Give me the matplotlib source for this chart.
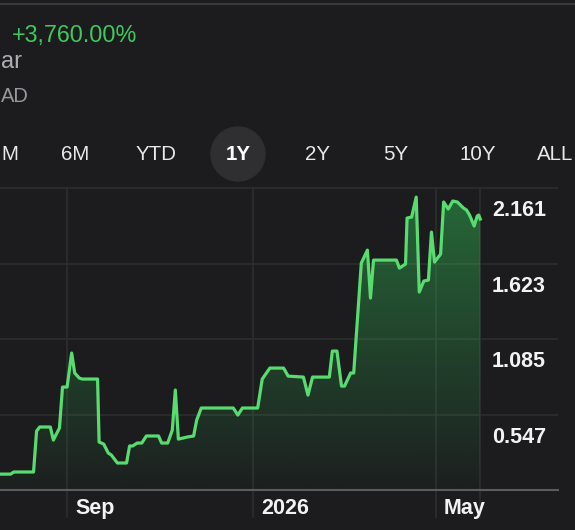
import matplotlib
matplotlib.use("Agg")
import matplotlib.pyplot as plt
import matplotlib.dates as mdates
import matplotlib.transforms as mtransforms
from matplotlib.lines import Line2D
from matplotlib.patches import Ellipse
import numpy as np
import pandas as pd

plt.rcParams["font.family"] = ["Liberation Sans", "DejaVu Sans"]

# ---- data ----
start_date = "2025-07-19"
day_offsets = [
    0, 7, 9, 22, 24, 26, 33, 35, 39, 41,
    44, 47, 49, 52, 54, 64, 65, 68, 71, 73,
    77, 83, 85, 87, 90, 93, 96, 104, 106, 110,
    113, 115, 117, 123, 127, 129, 132, 153, 156, 159,
    169, 172, 177, 186, 189, 199, 202, 205, 216, 218,
    221, 224, 226, 230, 232, 237, 241, 243, 245, 260,
    262, 266, 267, 270, 273, 275, 278, 281, 283, 285,
    289, 291, 294, 297, 300, 304, 306, 308, 311, 313,
    314, 315,
]
prices = [
    0.127, 0.127, 0.142, 0.142, 0.433, 0.462, 0.462, 0.369, 0.455, 0.746,
    0.746, 0.988, 0.846, 0.810, 0.803, 0.803, 0.355, 0.341, 0.277, 0.263,
    0.206, 0.206, 0.327, 0.327, 0.348, 0.348, 0.398, 0.398, 0.348, 0.348,
    0.440, 0.725, 0.376, 0.391, 0.398, 0.511, 0.597, 0.597, 0.547, 0.597,
    0.597, 0.803, 0.881, 0.881, 0.824, 0.817, 0.689, 0.817, 0.817, 1.002,
    1.002, 0.753, 0.753, 0.846, 0.846, 1.628, 1.720, 1.379, 1.649, 1.649,
    1.592, 1.621, 1.948, 1.955, 2.097, 1.422, 1.500, 1.507, 1.848, 1.635,
    1.692, 2.062, 2.012, 2.069, 2.062, 2.019, 2.005, 1.969, 1.891, 1.962,
    1.969, 1.941,
]
y_levels = [0.547, 1.085, 1.623, 2.161]
month_ticks = ["2025-09-01", "2026-01-01", "2026-05-01"]
month_labels = ["Sep", "2026", "May"]
ranges = ["M", "6M", "YTD", "1Y", "2Y", "5Y", "10Y", "ALL"]
selected_range = "1Y"
change_text = "+3,760.00%"
name_tail = "ar"
currency_tail = "AD"

# ---- style ----
BG = "#1c1c1e"
GRID = "#2e2e30"
GREEN = "#58dc70"
GREEN_TXT = "#3ec95c"
W, H = 575, 530


def fx(px):
    return px / W


def fy(py):
    return 1 - py / H


dates = pd.Timestamp(start_date) + pd.to_timedelta(day_offsets, unit="D")

fig = plt.figure(figsize=(W / 100, H / 100), dpi=100, facecolor=BG)

# header
fig.add_artist(Line2D([0, 1], [fy(4), fy(4)], color="#38383a", lw=1.5))
fig.text(fx(12), fy(42), change_text, color=GREEN_TXT, fontsize=16.8, va="baseline")
fig.text(fx(1), fy(68), name_tail, color="#aeaeb2", fontsize=17, ha="left", va="baseline")
fig.text(fx(1), fy(102), currency_tail, color="#98989d", fontsize=14.5, ha="left", va="baseline")

# range buttons (first one is only partly on screen in the original)
btn_x = [1, 75, 156, 238, 317, 396, 478, 537]
for label, bx in zip(ranges, btn_x):
    ha = "center"
    if label in (ranges[0], ranges[-1]):
        ha = "left"
    if label == selected_range:
        fig.add_artist(Ellipse((fx(bx), fy(154)), 54 / W, 54 / H,
                               transform=fig.transFigure, color="#2f2f31", zorder=0))
    fig.text(fx(bx), fy(160), label, color="white" if label == selected_range else "#e8e8ea",
             fontsize=14.8, ha=ha, va="baseline",
             fontweight="bold" if label == selected_range else "normal")

# chart
ax = fig.add_axes([0, fy(490), 558 / W, (490 - 185) / H])
ax.set_facecolor(BG)
ax.plot(dates, prices, color=GREEN, lw=2.3, solid_joinstyle="round", zorder=4)

ylo, yhi = 0.014, 2.183
xlo = pd.Timestamp(start_date)
xhi = xlo + pd.Timedelta(days=366)

poly = ax.fill_between(dates, prices, ylo, color="none", lw=0)
grad = np.zeros((256, 1, 4))
grad[:, 0, :3] = matplotlib.colors.to_rgb("#34c759")
grad[:, 0, 3] = np.linspace(0.46, 0.02, 256)
im = ax.imshow(grad, extent=[mdates.date2num(xlo), mdates.date2num(xhi), ylo, yhi],
               aspect="auto", origin="upper", zorder=2)
im.set_clip_path(poly.get_paths()[0], transform=ax.transData)

for lvl in y_levels:
    ax.axhline(lvl, color=GRID, lw=1.2, zorder=1)

for d in list(pd.to_datetime(month_ticks)) + [dates[-1]]:
    ax.axvline(d, ymin=-0.0885, ymax=0.99, color=GRID, lw=1.2, zorder=1, clip_on=False)

ax.set_xlim(xlo, xhi)
ax.set_ylim(ylo, yhi)
ax.set_xticks([])
ax.set_yticks([])
for side in ["top", "left", "right"]:
    ax.spines[side].set_visible(False)
ax.spines["bottom"].set_color("#5c5c5e")
ax.spines["bottom"].set_linewidth(1.5)

# right-hand price labels, sitting under each gridline
ytrans = mtransforms.offset_copy(ax.get_yaxis_transform(), fig=fig, x=0, y=-28, units="dots")
for lvl in y_levels:
    ax.text(492 / 558, lvl, f"{lvl:.3f}", transform=ytrans, color="#f2f2f2",
            fontsize=15.5, fontweight="bold", ha="left", va="baseline")

# month labels, just right of their gridlines
xtrans = mtransforms.offset_copy(ax.get_xaxis_transform(), fig=fig, x=8, y=-24, units="dots")
for d, lab in zip(pd.to_datetime(month_ticks), month_labels):
    ax.text(d, 0, lab, transform=xtrans, color="#f2f2f2", fontsize=15.5,
            fontweight="bold", ha="left", va="baseline", clip_on=False)

fig.savefig("out.png", dpi=100, facecolor=BG)
